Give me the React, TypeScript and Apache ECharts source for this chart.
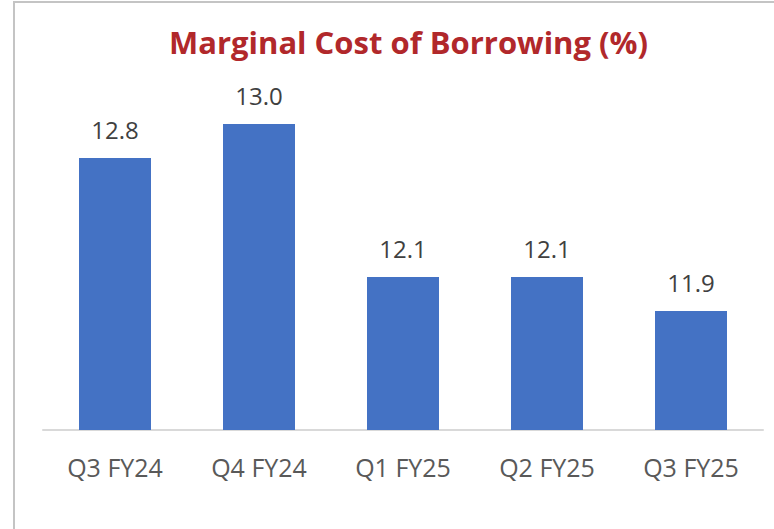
import React, { useEffect, useRef } from "react";
import * as echarts from "echarts";

const categories = ["Q3 FY24", "Q4 FY24", "Q1 FY25", "Q2 FY25", "Q3 FY25"];
const values = [12.8, 13.0, 12.1, 12.1, 11.9];
const titleText = "Marginal Cost of Borrowing (%)";

export default function App() {
  const ref = useRef<HTMLDivElement>(null);
  useEffect(() => {
    if (!ref.current) return;
    const chart = echarts.init(ref.current, null, { renderer: "svg" });
    chart.setOption({
      animation: false,
      backgroundColor: "#ffffff",
      title: {
        text: titleText,
        left: 164,
        top: 21,
        textStyle: {
          fontFamily: "Open Sans",
          fontSize: 31,
          fontWeight: "bold",
          color: "#B1282B",
        },
      },
      graphic: [
        {
          type: "rect",
          shape: { x: 14, y: 2, width: 800, height: 600 },
          style: { fill: "none", stroke: "#c4c4c4", lineWidth: 2 },
          silent: true,
          z: 0,
        },
      ],
      grid: { left: 43, right: 11, top: 90, bottom: 99 },
      xAxis: {
        type: "category",
        data: categories,
        axisLine: { show: true, lineStyle: { color: "#d9d9d9", width: 2 } },
        axisTick: { show: false },
        axisLabel: {
          margin: 24,
          fontFamily: "Open Sans",
          fontSize: 25,
          color: "#595959",
        },
      },
      yAxis: {
        type: "value",
        min: 11.2,
        max: 13.2,
        show: false,
        splitLine: { show: false },
      },
      series: [
        {
          type: "bar",
          data: values,
          barWidth: 72,
          itemStyle: { color: "#4472C4" },
          label: {
            show: true,
            position: "top",
            distance: 17,
            fontFamily: "Open Sans",
            fontSize: 24,
            color: "#404040",
            formatter: (p: any) => Number(p.value).toFixed(1),
          },
        },
      ],
    });
    return () => chart.dispose();
  }, []);
  return (
    <div
      ref={ref}
      style={{ position: "fixed", left: 0, top: 0, width: 774, height: 529 }}
    />
  );
}
